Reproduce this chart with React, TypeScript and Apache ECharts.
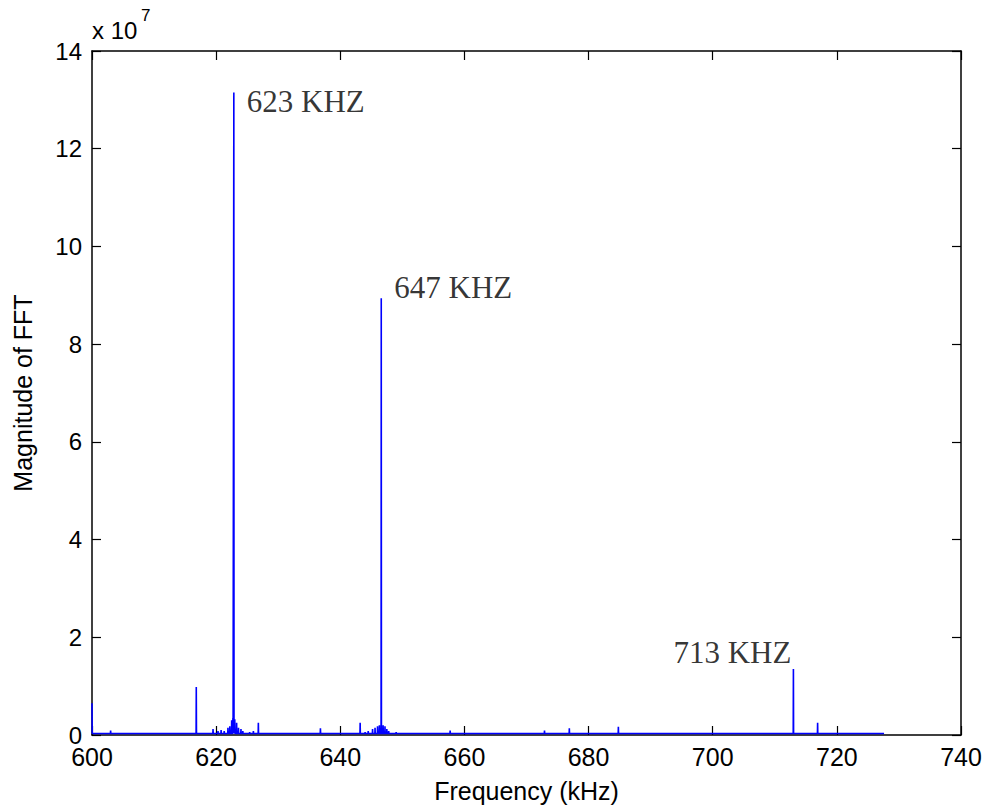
import React, { useEffect, useRef } from "react";
import * as echarts from "echarts";

// Spectrum spikes (frequency in kHz, magnitude in units of 1e7)
const spikeFreqs = [
  600.0, 603.0, 616.8, 619.5, 620.3, 620.8, 621.3, 621.9, 622.2, 622.5, 622.7,
  622.85, 623.0, 623.3, 623.6, 624.0, 624.3, 625.4, 626.0, 626.8, 636.8, 643.2,
  644.0, 644.5, 645.2, 645.6, 646.0, 646.3, 646.6, 646.9, 647.2, 647.5, 647.8,
  649.0, 657.7, 672.9, 676.9, 684.8, 713.0, 716.9,
];
const spikeMags = [
  0.65, 0.09, 0.98, 0.12, 0.08, 0.1, 0.08, 0.15, 0.18, 0.3, 0.35,
  13.15, 0.32, 0.25, 0.15, 0.12, 0.08, 0.06, 0.08, 0.25, 0.14, 0.25,
  0.06, 0.08, 0.12, 0.15, 0.18, 0.2, 8.94, 0.2, 0.18, 0.12, 0.08,
  0.06, 0.09, 0.09, 0.14, 0.17, 1.35, 0.25,
];
const noiseFloor = 0.03;
const spectrumEnd = 727.6;

// Annotations
const annotFreqs = [622.85, 646.6, 713.0];
const annotMags = [13.15, 8.94, 1.35];
const annotLabels = ["623 KHZ", "647 KHZ", "713 KHZ"];

// Axes
const xTicks = [600, 620, 640, 660, 680, 700, 720, 740];
const yTicks = [0, 2, 4, 6, 8, 10, 12, 14];

export default function App() {
  const ref = useRef<HTMLDivElement>(null);

  useEffect(() => {
    document.body.style.margin = "0";
    const chart = echarts.init(ref.current!, null, { renderer: "svg" });

    const lineData: number[][] = [];
    spikeFreqs.forEach((f, i) => {
      if (f > xTicks[0]) lineData.push([f - 0.03, noiseFloor]);
      lineData.push([f, spikeMags[i]]);
      lineData.push([f + 0.03, noiseFloor]);
    });
    lineData.push([spectrumEnd, noiseFloor]);

    const labelCfg = [
      { position: "right", distance: 13, offset: [0, 9] },
      { position: "right", distance: 13, offset: [0, -11] },
      { position: "left", distance: 2, offset: [0, -17] },
    ];

    const font = "Liberation Sans, Arial, sans-serif";
    const serif = "Liberation Serif, Times New Roman, serif";
    const axisLine = { show: true, onZero: false, lineStyle: { color: "#000", width: 1.5 } };
    const tick = { show: true, inside: true, length: 9, lineStyle: { color: "#000", width: 1.2 } };

    chart.setOption({
      animation: false,
      backgroundColor: "#fff",
      grid: { left: 92, right: 25, top: 51, bottom: 75 },
      xAxis: [
        {
          type: "value",
          min: xTicks[0],
          max: xTicks[xTicks.length - 1],
          interval: 20,
          position: "bottom",
          name: "Frequency (kHz)",
          nameLocation: "middle",
          nameGap: 43,
          nameTextStyle: { fontFamily: font, fontSize: 25, color: "#000" },
          axisLine,
          axisTick: tick,
          axisLabel: { fontFamily: font, fontSize: 25, lineHeight: 20, color: "#000", margin: 12 },
          splitLine: { show: false },
        },
        {
          type: "value",
          min: xTicks[0],
          max: xTicks[xTicks.length - 1],
          interval: 20,
          position: "top",
          axisLine,
          axisTick: tick,
          axisLabel: { show: false },
          splitLine: { show: false },
        },
      ],
      yAxis: [
        {
          type: "value",
          min: yTicks[0],
          max: yTicks[yTicks.length - 1],
          interval: 2,
          position: "left",
          name: "Magnitude of FFT",
          nameLocation: "middle",
          nameGap: 57,
          nameTextStyle: { fontFamily: font, fontSize: 25, color: "#000" },
          axisLine,
          axisTick: tick,
          axisLabel: { fontFamily: font, fontSize: 24, lineHeight: 18, color: "#000", margin: 10 },
          splitLine: { show: false },
        },
        {
          type: "value",
          min: yTicks[0],
          max: yTicks[yTicks.length - 1],
          interval: 2,
          position: "right",
          axisLine,
          axisTick: tick,
          axisLabel: { show: false },
          splitLine: { show: false },
        },
      ],
      series: [
        {
          type: "line",
          data: lineData,
          symbol: "none",
          lineStyle: { color: "#0000ff", width: 1.6 },
          itemStyle: { color: "#0000ff" },
          clip: true,
          z: 3,
        },
        {
          type: "scatter",
          symbolSize: 0,
          data: annotFreqs.map((f, i) => ({
            value: [f, annotMags[i]],
            label: {
              show: true,
              formatter: annotLabels[i],
              fontFamily: serif,
              fontSize: 31,
              color: "#000000",
              ...labelCfg[i],
            },
          })),
          label: {
            show: true,
            fontFamily: serif,
            fontSize: 31,
            color: "#000000",
          },
          itemStyle: { color: "#000000" },
          silent: true,
          z: 4,
        },
      ],
      graphic: [
        {
          type: "text",
          left: 92,
          top: 18,
          style: { text: "x 10", fontFamily: font, fontSize: 24, fill: "#000" },
        },
        {
          type: "text",
          left: 141,
          top: 7,
          style: { text: "7", fontFamily: font, fontSize: 17, fill: "#000" },
        },
      ],
    });

    return () => chart.dispose();
  }, []);

  return <div ref={ref} style={{ width: 986, height: 810 }} />;
}
